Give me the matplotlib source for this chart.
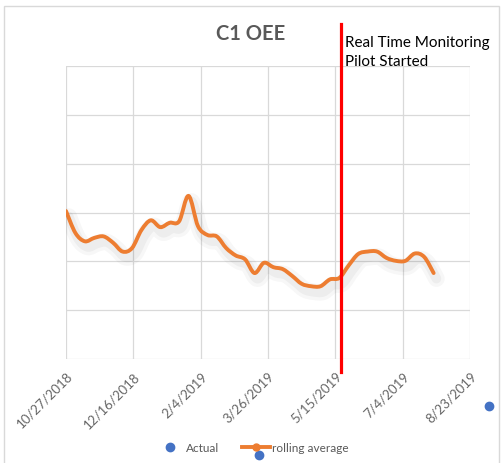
import numpy as np
import pandas as pd
import matplotlib
matplotlib.use("Agg")
import matplotlib.pyplot as plt
import matplotlib.dates as mdates
import matplotlib.patheffects as pe
from matplotlib.path import Path
from matplotlib.patches import PathPatch, Rectangle
from matplotlib.lines import Line2D

plt.rcParams["font.family"] = ["Lato", "DejaVu Sans"]

# weekly rolling average of OEE
start = "2018-10-27"
rolling = [0.303, 0.258, 0.241, 0.248, 0.251, 0.238, 0.220, 0.227, 0.264, 0.284,
           0.270, 0.279, 0.282, 0.334, 0.272, 0.254, 0.251, 0.227, 0.212, 0.204,
           0.176, 0.197, 0.188, 0.184, 0.170, 0.154, 0.149, 0.149, 0.163, 0.166,
           0.192, 0.215, 0.220, 0.220, 0.207, 0.201, 0.201, 0.216, 0.209, 0.176]
weeks = pd.date_range(start, periods=len(rolling), freq="7D")

# the two "Actual" points that show up outside the plot area
actual_dates = pd.to_datetime(["2019-09-06", "2019-03-19"])
actual_vals = [-0.096, -0.197]

tick_dates = pd.date_range(start, "2019-08-23", freq="50D")
pilot_date = pd.Timestamp("2019-05-19")
pilot_span = [-0.027, 0.686]

fig = plt.figure(figsize=(5.01, 4.63), dpi=100)
ax = fig.add_axes([66 / 501, 104 / 463, 404 / 501, 293 / 463])

# outer chart frame
fig.patches.append(Rectangle((4 / 501, -0.02), 495 / 501, 1.007, transform=fig.transFigure,
                             fill=False, edgecolor="#d9d9d9", linewidth=1))

# smooth line (Catmull-Rom -> cubic bezier), like Excel's smoothed line
x = mdates.date2num(weeks)
y = np.array(rolling)
pts = np.column_stack([x, y])
verts = [pts[0]]
codes = [Path.MOVETO]
for i in range(len(pts) - 1):
    p0 = pts[max(i - 1, 0)]
    p1 = pts[i]
    p2 = pts[i + 1]
    p3 = pts[min(i + 2, len(pts) - 1)]
    c1 = p1 + (p2 - p0) / 6
    c2 = p2 - (p3 - p1) / 6
    verts += [c1, c2, p2]
    codes += [Path.CURVE4] * 3
shadow = [pe.SimpleLineShadow(offset=(2, -4), shadow_color="k", alpha=0.03, linewidth=12),
          pe.SimpleLineShadow(offset=(2, -4), shadow_color="k", alpha=0.04, linewidth=7),
          pe.Normal()]
patch = PathPatch(Path(verts, codes), facecolor="none", edgecolor="#ed7d31",
                  linewidth=2.8, capstyle="round", joinstyle="round", path_effects=shadow)
ax.add_patch(patch)

ax.plot(actual_dates, actual_vals, "o", color="#4472c4", markersize=6,
        clip_on=False, zorder=5)

ax.plot([pilot_date, pilot_date], pilot_span, color="#ff0000", linewidth=2.3,
        clip_on=False, zorder=6)
ax.text(pilot_date + pd.Timedelta(days=3), 0.628, "Real Time Monitoring\nPilot Started",
        fontsize=11, color="black", va="center", ha="left", linespacing=1.45)

ax.set_xlim(tick_dates[0], tick_dates[-1])
ax.set_ylim(0, 0.6)
ax.set_xticks(tick_dates)
ax.set_xticklabels([f"{d.month}/{d.day}/{d.year}" for d in tick_dates],
                   rotation=45, ha="right", rotation_mode="anchor",
                   fontsize=9.5, color="#666666")
ax.set_yticks(np.arange(0, 0.61, 0.1))
ax.set_yticklabels([])
ax.tick_params(length=0, pad=8)
ax.grid(True, color="#d9d9d9", linewidth=0.9)
ax.set_axisbelow(True)
for s in ax.spines.values():
    s.set_visible(False)

fig.text(251 / 501, 1 - 34 / 463, "C1 OEE", ha="center", va="center",
         fontsize=14.5, fontweight="bold", color="#595959")

handles = [Line2D([], [], marker="o", linestyle="none", color="#4472c4", markersize=6),
           Line2D([], [], marker="o", color="#ed7d31", linewidth=2.8, markersize=5)]
fig.legend(handles, ["Actual", "rolling average"], loc="center",
           bbox_to_anchor=(252 / 501, 15 / 463), ncol=2, frameon=False,
           fontsize=8.5, labelcolor="#595959", handlelength=2.4, columnspacing=1.95,
           handletextpad=0.15)

fig.savefig("out.png", dpi=100)
